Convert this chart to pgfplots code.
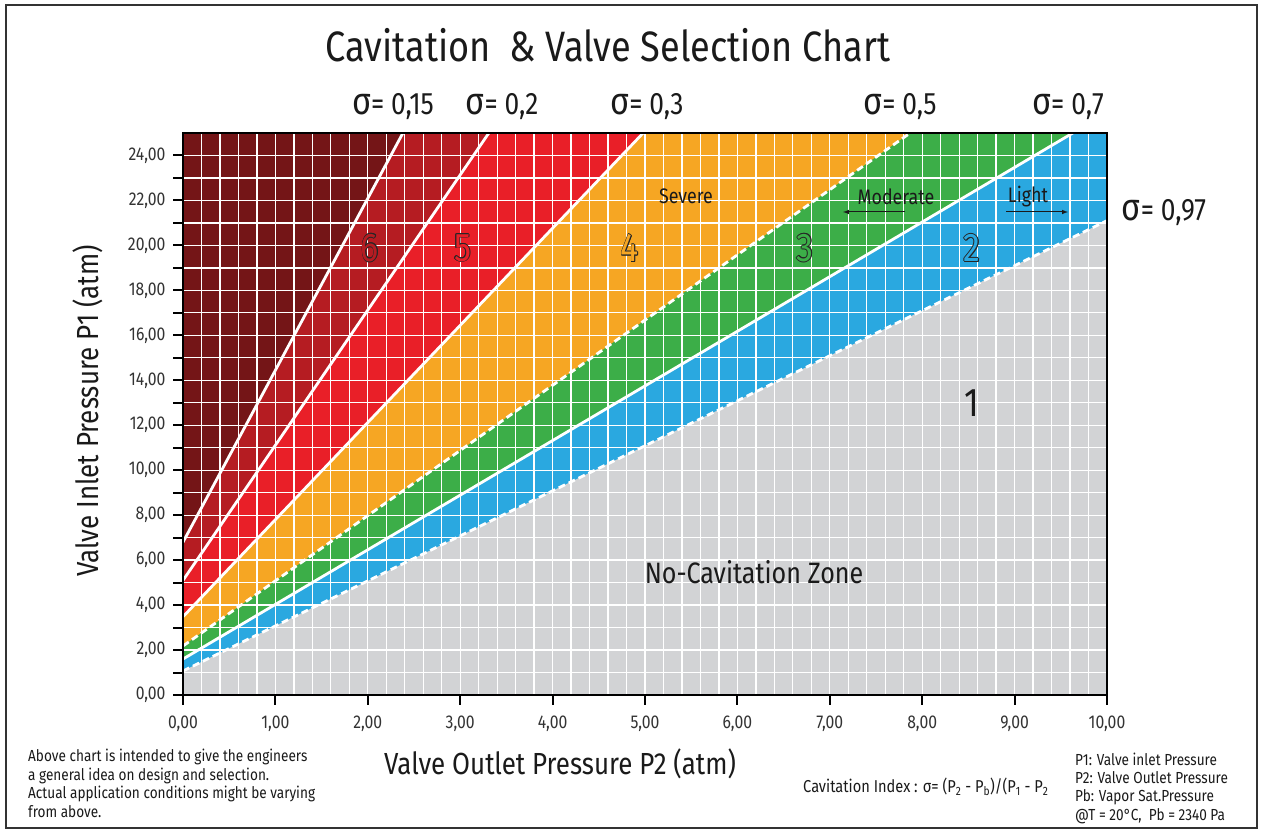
\documentclass[border=0pt]{standalone}
\usepackage{fontspec}
\setmainfont{Fira Sans}[FakeStretch=0.85]
\usepackage{pgfplots}
\pgfplotsset{compat=1.18}
\definecolor{maroonz}{HTML}{741517}
\definecolor{zsix}{HTML}{B51C22}
\definecolor{zfive}{HTML}{E91F28}
\definecolor{zfour}{HTML}{F6A623}
\definecolor{zthree}{HTML}{3CAE48}
\definecolor{ztwo}{HTML}{2AA8E0}
\definecolor{zone}{HTML}{D2D3D5}
\definecolor{txt}{HTML}{1A1A1A}
\newcommand{\fs}[1]{\fontsize{#1bp}{#1bp}\selectfont}
\newcommand{\sig}{{\fontsize{38bp}{38bp}\selectfont σ}}
\newcommand{\hollow}[3]{%
  \foreach \a in {0,45,...,315} {\node[text=black!85,font=\fs{40}] at #1 [shift={(\a:0.7bp)}] {#3};}
  \node[text=#2,font=\fs{40}] at #1 {#3};}
\begin{document}
\begin{tikzpicture}
\useasboundingbox (0,0) rectangle (1262bp,832bp);
\fill[white] (0,0) rectangle (1262bp,832bp);
\begin{axis}[
  at={(183bp,137bp)}, anchor=south west, scale only axis,
  width=924bp, height=562bp,
  xmin=0, xmax=10, ymin=0, ymax=25,
  xtick={0,1,...,10},
  minor xtick={0.2,0.4,0.6,0.8,1.2,1.4,1.6,1.8,2.2,2.4,2.6,2.8,3.2,3.4,3.6,3.8,4.2,4.4,4.6,4.8,5.2,5.4,5.6,5.8,6.2,6.4,6.6,6.8,7.2,7.4,7.6,7.8,8.2,8.4,8.6,8.8,9.2,9.4,9.6,9.8},
  ytick={0,1,...,24},
  yticklabel={\ifodd\ticknum\else\pgfmathprintnumber{\tick}\fi},
  grid=both,
  major grid style={white, line width=1.3bp},
  minor grid style={white, line width=1.3bp},
  axis on top,
  tick align=outside, tick pos=left,
  major tick length=10bp, minor tick length=0pt,
  every tick/.style={black, line width=2bp},
  axis line style={line width=2bp, black},
  xticklabel style={font=\fs{18.5}, text=black!80, yshift=-7bp},
  yticklabel style={font=\fs{18.5}, text=black!80, xshift=-4bp},
  /pgf/number format/.cd, use comma, fixed, fixed zerofill, precision=2, assume math mode=true,
]
\addplot[draw=none, fill=maroonz] coordinates {(0,0) (0,25) (10,25) (10,0)} -- cycle;
\addplot[draw=none, fill=zsix] coordinates {(0,0) (0,6.8) (2.38,25) (10,25) (10,0)} -- cycle;
\addplot[draw=none, fill=zfive] coordinates {(0,0) (0,5.1) (3.31,25) (10,25) (10,0)} -- cycle;
\addplot[draw=none, fill=zfour] coordinates {(0,0) (0,3.48) (4.98,25) (10,25) (10,0)} -- cycle;
\addplot[draw=none, fill=zthree] coordinates {(0,0) (0,2.18) (7.87,25) (10,25) (10,0)} -- cycle;
\addplot[draw=none, fill=ztwo] coordinates {(0,0) (0,1.6) (9.63,25) (10,25) (10,0)} -- cycle;
\addplot[draw=none, fill=zone] coordinates {(0,0) (0,1.07) (10,21.1) (10,0)} -- cycle;
\addplot[white, line width=2.8bp] coordinates {(0,6.8) (2.38,25)};
\addplot[white, line width=2.8bp] coordinates {(0,5.1) (3.31,25)};
\addplot[white, line width=2.8bp] coordinates {(0,3.48) (4.98,25)};
\addplot[white, line width=2.8bp, dash pattern=on 7bp off 4bp] coordinates {(0,2.18) (7.87,25)};
\addplot[white, line width=2.8bp] coordinates {(0,1.6) (9.63,25)};
\addplot[white, line width=2.8bp, dash pattern=on 7bp off 4bp] coordinates {(0,1.07) (10,21.1)};
\end{axis}
% frame
\draw[line width=2bp, black!80] (6bp,4bp) rectangle (1257bp,827bp);
% title
\node[font=\fs{42.5}, text=txt] at (608bp,787bp) {Cavitation \ \& Valve Selection Chart};
% sigma labels
\node[font=\fs{31}, text=txt] at (393bp,725bp) {\sig= 0,15};
\node[font=\fs{31}, text=txt] at (502bp,725bp) {\sig= 0,2};
\node[font=\fs{31}, text=txt] at (647bp,725bp) {\sig= 0,3};
\node[font=\fs{31}, text=txt] at (900bp,725bp) {\sig= 0,5};
\node[font=\fs{31}, text=txt] at (1068bp,725bp) {\sig= 0,7};
\node[font=\fs{31}, text=txt] at (1164bp,619bp) {\sig= 0,97};
% zone labels
\node[font=\fs{21}, text=txt] at (686bp,636bp) {Severe};
\node[font=\fs{21}, text=txt] at (896bp,635bp) {Moderate};
\node[font=\fs{21}, text=txt] at (1028bp,635bp) {Light};
\draw[-latex, line width=1bp, txt] (905bp,620bp) -- (843bp,620bp);
\draw[-latex, line width=1bp, txt] (1006bp,620bp) -- (1068bp,620bp);
\hollow{(370bp,584bp)}{zsix}{6}
\hollow{(463bp,584bp)}{zfive}{5}
\hollow{(630bp,584bp)}{zfour}{4}
\hollow{(805bp,584bp)}{zthree}{3}
\hollow{(972bp,584bp)}{ztwo}{2}
\node[font=\fs{40}, text=txt] at (972bp,429bp) {1};
\node[font=\fs{29.5}, text=txt] at (754bp,260bp) {No-Cavitation Zone};
% axis labels
\node[font=\fs{30.5}, text=txt] at (560bp,68bp) {Valve Outlet Pressure P2 (atm)};
\node[font=\fs{30.5}, text=txt, rotate=90] at (88bp,421bp) {Valve Inlet Pressure P1 (atm)};
% notes
\begin{scope}[every node/.style={font=\fs{16}, text=txt, anchor=west, inner sep=0pt}]
\node at (28bp,75bp) {Above chart is intended to give the engineers};
\node at (28bp,56bp) {a general idea on design and selection.};
\node at (28bp,38bp) {Actual application conditions might be varying};
\node at (28bp,20bp) {from above.};
\node at (1075bp,73bp) {P1: Valve inlet Pressure};
\node at (1075bp,54bp) {P2: Valve Outlet Pressure};
\node at (1075bp,35bp) {Pb: Vapor Sat.Pressure};
\node at (1075bp,16bp) {@T = 20°C, \ Pb = 2340 Pa};
\node[font=\fs{17.2}] at (803bp,45bp) {Cavitation Index : σ= (P\textsubscript{2} - P\textsubscript{b})/(P\textsubscript{1} - P\textsubscript{2}};
\end{scope}
\end{tikzpicture}
\end{document}
